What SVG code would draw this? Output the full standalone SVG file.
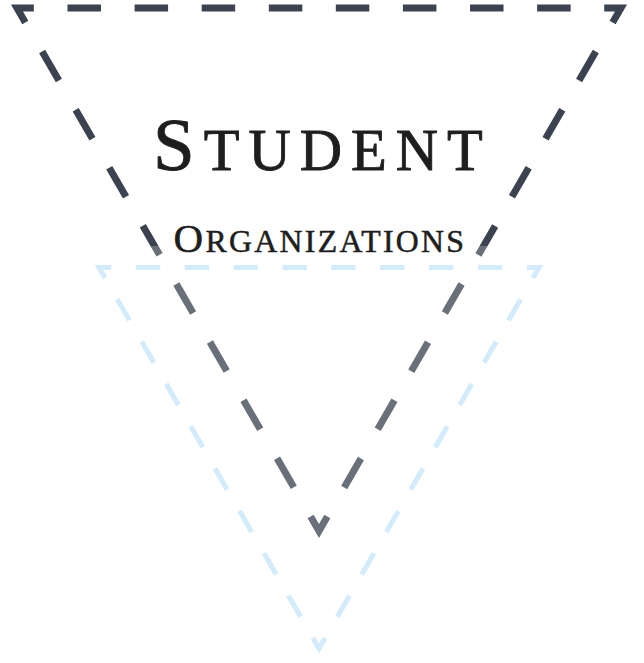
<svg xmlns="http://www.w3.org/2000/svg" width="644" height="663" viewBox="0 0 644 663">
<style>
.dark{fill:none;stroke:#3c4350;stroke-width:7;stroke-dasharray:33.5 33.61;stroke-dashoffset:50.3;stroke-linejoin:miter;stroke-miterlimit:10}
.blue{fill:none;stroke:#d3ebfb;stroke-width:5.1;stroke-dasharray:24.4 24.49;stroke-dashoffset:36.65;stroke-linejoin:miter;stroke-miterlimit:10}
.title{font-family:"Liberation Serif","Times New Roman",serif;fill:#1e1e1e;stroke:#1e1e1e}
</style>
<g id="connectors">
<path id="outer-triangle" class="dark" d="M319 8 L621 8 L319 531 L17 8 Z"/>
<rect id="fade" x="0" y="246" width="644" height="417" fill="#ffffff" fill-opacity="0.24"/>
<path id="inner-triangle" class="blue" d="M319 267.5 L539 267.5 L319 648.5 L99 267.5 Z"/>
</g>
<g id="title-student">
<text class="title" x="153" y="170" letter-spacing="9" stroke-width="0.9"><tspan font-size="75">S</tspan><tspan font-size="58.5">TUDENT</tspan></text>
</g>
<g id="title-organizations">
<text class="title" x="173.6" y="252" letter-spacing="2.3" stroke-width="0.55"><tspan font-size="41">O</tspan><tspan font-size="31.8">RGANIZATIONS</tspan></text>
</g>
</svg>
